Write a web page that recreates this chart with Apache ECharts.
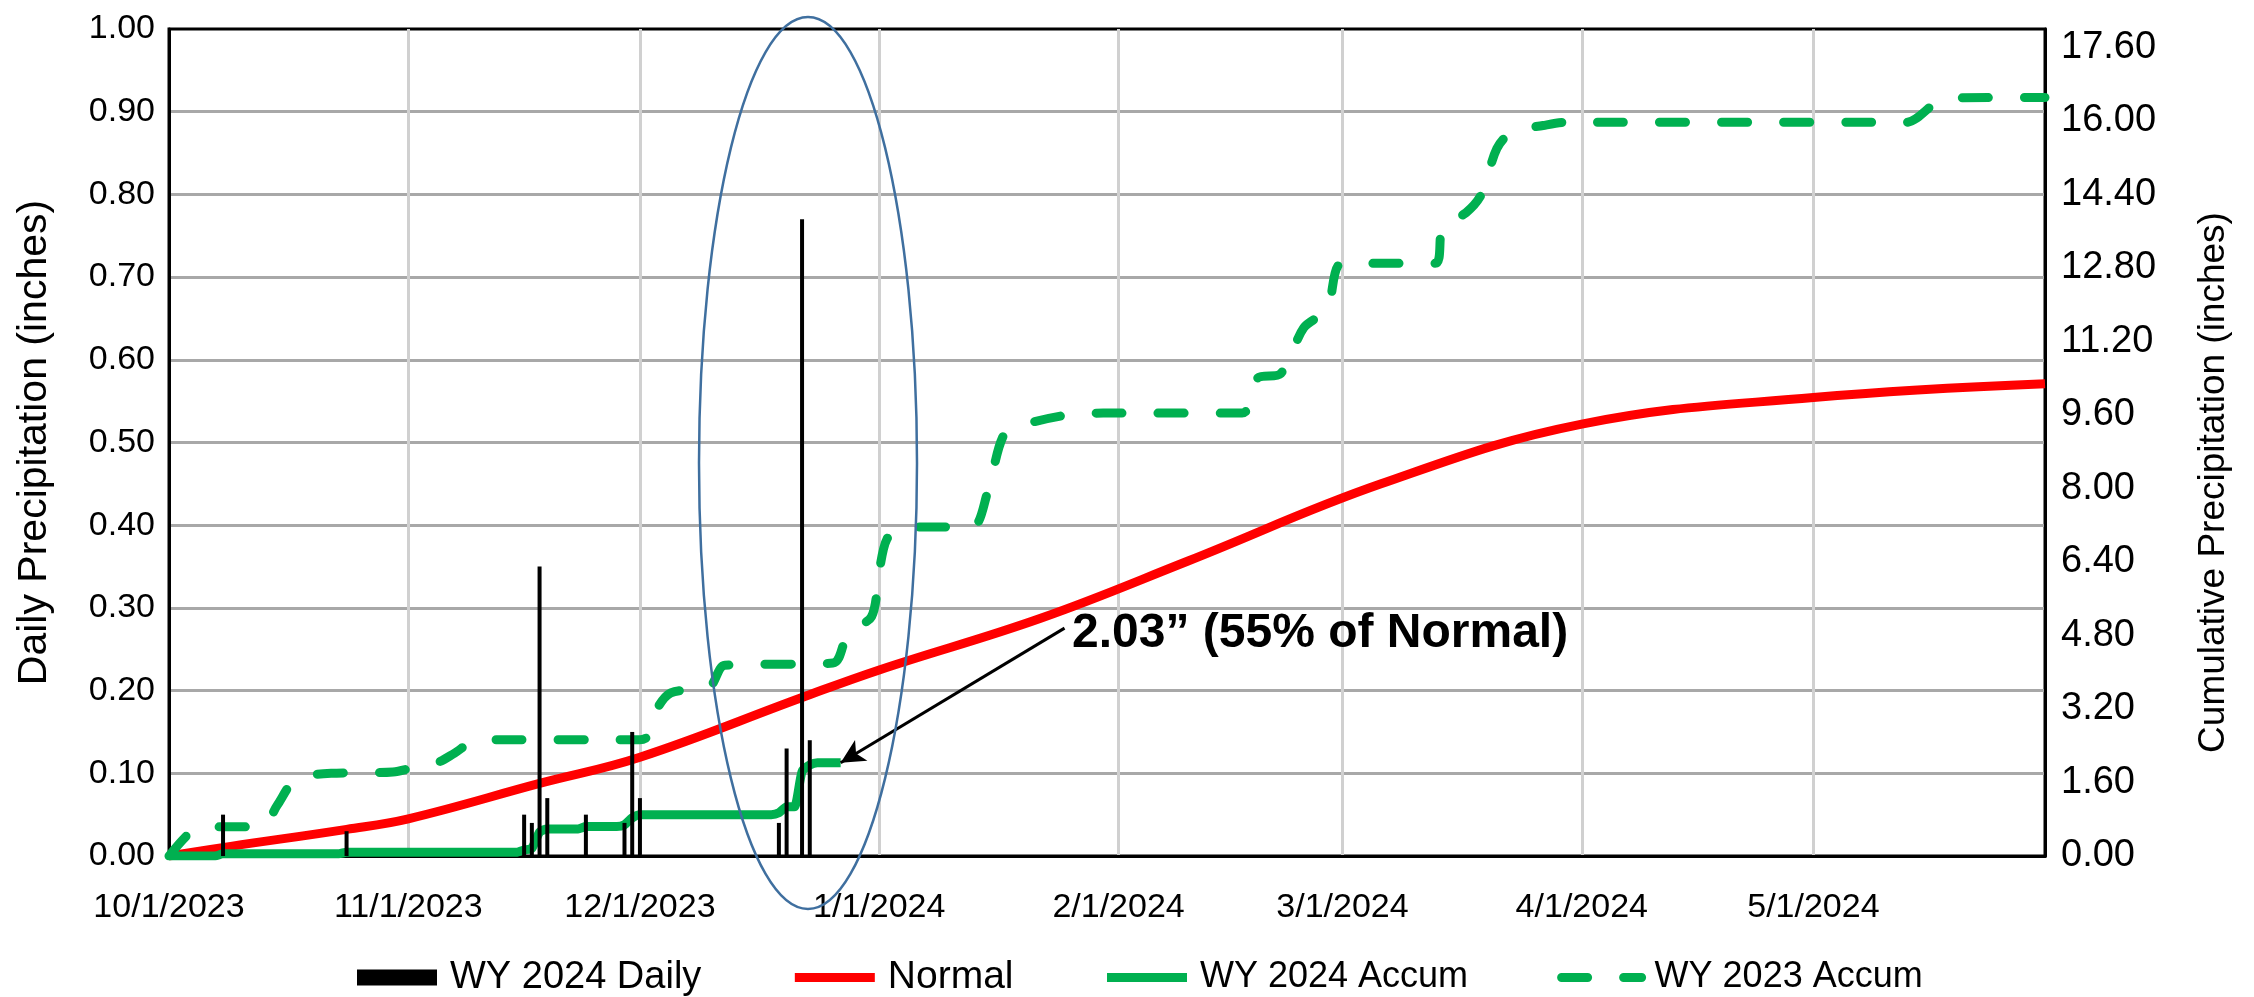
<!DOCTYPE html>
<html>
<head>
<meta charset="utf-8">
<script src="https://cdn.jsdelivr.net/npm/echarts@6/dist/echarts.min.js"></script>
<style>
html,body{margin:0;padding:0;background:#fff;}
#chart{width:2254px;height:997px;}
</style>
</head>
<body>
<div id="chart"></div>
<script>
// ---- categories: every day of the water year shown (10/1/2023 .. 5/31/2024)
const startDate = new Date(2023, 9, 1);
const endDate = new Date(2024, 4, 31);
const categories = [];
for (let d = new Date(startDate); d <= endDate; d.setDate(d.getDate() + 1)) {
  categories.push((d.getMonth() + 1) + '/' + d.getDate() + '/' + d.getFullYear());
}

// ---- axis tick settings
const leftTicks = { min: 0, max: 1, interval: 0.1 };
const rightTicks = { min: 0, max: 18, interval: 1.6 };

// ---- WY 2024 Daily precipitation (inches)
const dailyDates  = ['10/8/2023','10/24/2023','11/16/2023','11/17/2023','11/18/2023','11/19/2023','11/24/2023','11/29/2023','11/30/2023','12/1/2023','12/19/2023','12/20/2023','12/22/2023','12/23/2023'];
const dailyValues = [0.05, 0.03, 0.05, 0.04, 0.35, 0.07, 0.05, 0.04, 0.15, 0.07, 0.04, 0.13, 0.77, 0.14];

// ---- Normal cumulative (inches)
const normalDates  = ['10/1/2023','10/9/2023','10/24/2023','11/1/2023','11/18/2023','12/1/2023','12/22/2023','1/1/2024','1/22/2024','2/10/2024','3/6/2024','4/1/2024','5/1/2024','5/31/2024'];
const normalValues = [0, 0.21, 0.58, 0.81, 1.58, 2.15, 3.45, 4.05, 5.18, 6.42, 8.10, 9.40, 9.98, 10.28];

// ---- WY 2024 cumulative (inches)
const wy24Dates  = ['10/1/2023','10/7/2023','10/8/2023','10/23/2023','10/24/2023','11/15/2023','11/16/2023','11/17/2023','11/18/2023','11/19/2023','11/23/2023','11/24/2023','11/28/2023','11/29/2023','11/30/2023','12/1/2023','12/18/2023','12/19/2023','12/20/2023','12/21/2023','12/22/2023','12/23/2023','12/24/2023','12/27/2023'];
const wy24Values = [0, 0, 0.05, 0.05, 0.08, 0.08, 0.13, 0.17, 0.52, 0.59, 0.59, 0.64, 0.64, 0.68, 0.83, 0.90, 0.90, 0.94, 1.07, 1.07, 1.84, 1.98, 2.03, 2.03];

// ---- WY 2023 cumulative (inches)
const wy23Dates  = ['10/1/2023','10/4/2023','10/6/2023','10/13/2023','10/15/2023','10/17/2023','10/19/2023','10/22/2023','10/30/2023','11/2/2023','11/5/2023','11/7/2023','11/10/2023','12/1/2023','12/2/2023','12/3/2023','12/5/2023','12/10/2023','12/12/2023','12/26/2023','12/28/2023','12/31/2023','1/1/2024','1/2/2024','1/4/2024','1/13/2024','1/15/2024','1/17/2024','1/19/2024','1/25/2024','1/30/2024','2/17/2024','2/19/2024','2/22/2024','2/25/2024','2/28/2024','3/1/2024','3/13/2024','3/14/2024','3/17/2024','3/19/2024','3/21/2024','3/23/2024','3/27/2024','3/30/2024','5/13/2024','5/17/2024','5/19/2024','5/31/2024'];
const wy23Values = [0, 0.55, 0.63, 0.64, 1.10, 1.61, 1.75, 1.80, 1.83, 1.94, 2.05, 2.24, 2.53, 2.53, 2.60, 3.14, 3.55, 3.68, 4.15, 4.20, 4.86, 5.21, 6.20, 6.90, 7.16, 7.16, 7.90, 9.12, 9.35, 9.59, 9.64, 9.64, 10.40, 10.50, 11.50, 11.90, 12.90, 12.90, 13.70, 14.00, 14.40, 15.40, 15.76, 15.90, 15.97, 15.97, 16.41, 16.50, 16.51];

// ---- annotation
const annotationText = '2.03\u201d (55% of Normal)';
const arrowTip = ['12/27/2023', 2.03];
const arrowTail = ['1/25/2024', 4.96];

const pair = (xs, ys) => xs.map((x, i) => [x, ys[i]]);
const isMonthStart = (idx, val) => /^\d+\/1\/\d{4}$/.test(String(val));

const FONT = 'Liberation Sans, Arial, sans-serif';
const chart = echarts.init(document.getElementById('chart'), null, { renderer: 'canvas' });

const lineLegend = (name, size) => ({
  name, itemStyle: { opacity: 0 }, lineStyle: { width: 9 },
  textStyle: { fontSize: size }
});

const option = {
  backgroundColor: '#ffffff',
  animation: false,
  grid: {
    left: 169, right: 209, top: 29, bottom: 141,
    show: true, borderColor: '#000', borderWidth: 3, backgroundColor: 'transparent'
  },
  legend: {
    left: 352, top: 953,
    itemWidth: 80, itemHeight: 16, itemGap: 89,
    textStyle: { fontFamily: FONT, fontSize: 38, color: '#000', padding: [0, 0, 0, 8] },
    data: [
      { name: 'WY 2024 Daily', icon: 'rect', textStyle: { fontSize: 38 } },
      lineLegend('Normal', 39),
      lineLegend('WY 2024 Accum', 36),
      lineLegend('WY 2023 Accum', 36)
    ]
  },
  xAxis: {
    type: 'category',
    data: categories,
    boundaryGap: false,
    axisLine: { show: true, lineStyle: { color: '#000', width: 3 } },
    axisTick: { show: false },
    axisLabel: {
      interval: isMonthStart, margin: 35,
      fontFamily: FONT, fontSize: 34, color: '#000'
    },
    splitLine: { show: true, interval: isMonthStart, showMinLine: false, lineStyle: { color: '#d0d0d0', width: 3 } }
  },
  yAxis: [
    {
      type: 'value', min: leftTicks.min, max: leftTicks.max, interval: leftTicks.interval,
      name: 'Daily Precipitation (inches)', nameLocation: 'middle', nameGap: 114,
      nameTextStyle: { fontFamily: FONT, fontSize: 41, color: '#000' },
      axisLine: { show: true, lineStyle: { color: '#000', width: 3 } },
      axisTick: { show: false },
      axisLabel: { formatter: v => v.toFixed(2), margin: 14, fontFamily: FONT, fontSize: 34, color: '#000' },
      splitLine: { show: true, showMinLine: false, showMaxLine: false, lineStyle: { color: '#a8a8a8', width: 3 } }
    },
    {
      type: 'value', min: rightTicks.min, max: rightTicks.max, interval: rightTicks.interval,
      name: 'Cumulative Precipitation (inches)', nameLocation: 'middle', nameGap: 150,
      nameTextStyle: { fontFamily: FONT, fontSize: 37, color: '#000', padding: [0, 80, 0, 0] },
      axisLine: { show: true, lineStyle: { color: '#000', width: 3 } },
      axisTick: { show: false },
      axisLabel: { formatter: v => v.toFixed(2), margin: 16, showMaxLabel: false, fontFamily: FONT, fontSize: 38, color: '#000' },
      splitLine: { show: false }
    }
  ],
  series: [
    {
      name: 'Normal', type: 'line', yAxisIndex: 1,
      data: pair(normalDates, normalValues),
      smooth: 0.4, symbol: 'none',
      lineStyle: { color: '#ff0000', width: 9 }, itemStyle: { color: '#ff0000' }, z: 3
    },
    {
      name: 'WY 2023 Accum', type: 'line', yAxisIndex: 1,
      data: pair(wy23Dates, wy23Values),
      smooth: 0.3, symbol: 'none',
      lineStyle: { color: '#00b050', width: 9, type: [26, 36], cap: 'round' }, itemStyle: { color: '#00b050' }, z: 3
    },
    {
      name: 'WY 2024 Accum', type: 'line', yAxisIndex: 1,
      data: pair(wy24Dates, wy24Values),
      smooth: 0.2, symbol: 'none',
      lineStyle: { color: '#00b050', width: 9 }, itemStyle: { color: '#00b050' }, z: 3,
      markLine: {
        silent: true, animation: false,
        symbol: ['arrow', 'none'], symbolSize: [18, 24],
        label: { show: false },
        lineStyle: { color: '#000', width: 3, type: 'solid' },
        data: [[ { coord: arrowTip }, { coord: arrowTail } ]]
      }
    },
    {
      name: 'WY 2024 Daily', type: 'bar', yAxisIndex: 0,
      data: pair(dailyDates, dailyValues),
      barWidth: 4, itemStyle: { color: '#000' }, z: 4
    }
  ],
  graphic: [
    {
      type: 'ellipse', silent: true, z: 10,
      shape: { cx: 808, cy: 463, rx: 109, ry: 446 },
      style: { fill: 'none', stroke: '#3f6f9f', lineWidth: 2.5 }
    },
    {
      type: 'text', silent: true, z: 10, left: 1072, top: 610,
      style: { text: annotationText, font: 'bold 48px ' + FONT, fill: '#000' }
    }
  ]
};
chart.setOption(option);
</script>
</body>
</html>
